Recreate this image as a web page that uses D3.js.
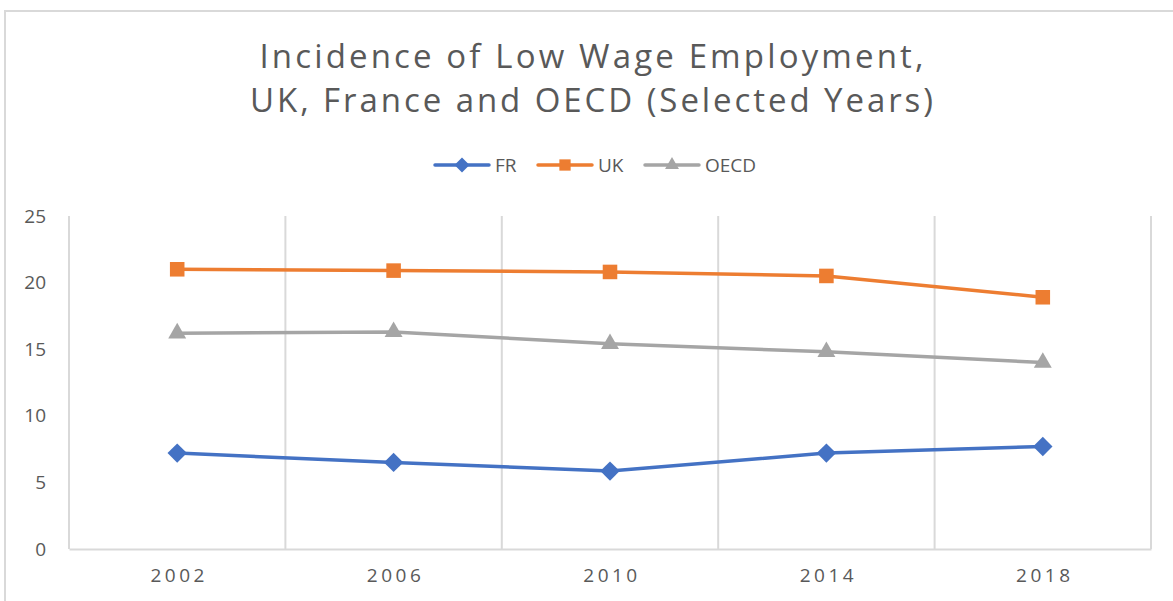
<!DOCTYPE html>
<html>
<head>
<meta charset="utf-8">
<script src="https://cdn.jsdelivr.net/npm/d3@7"></script>
<style>
  body { margin: 0; background: #fff; }
  text { font-family: "Open Sans", "Noto Sans", sans-serif; fill: #595959; }
</style>
</head>
<body>
<div id="chart"></div>
<script>
// Data
const years = ['2002', '2006', '2010', '2014', '2018'];
const frValues = [7.2, 6.5, 5.85, 7.2, 7.7];
const ukValues = [21.0, 20.9, 20.8, 20.5, 18.9];
const oecdValues = [16.2, 16.3, 15.4, 14.8, 14.0];
const yTicks = [0, 5, 10, 15, 20, 25];
const titleLines = ['Incidence of Low Wage Employment,', 'UK, France and OECD (Selected Years)'];

const series = [
  { name: 'FR', values: frValues, color: '#4472C4', symbol: d3.symbolDiamond2, size: 240 },
  { name: 'UK', values: ukValues, color: '#ED7D31', symbol: d3.symbolSquare2, size: 270 },
  { name: 'OECD', values: oecdValues, color: '#A5A5A5', symbol: d3.symbolTriangle2, size: 230 }
];

// Size
var width = 1173;
var height = 601;
var plot = { left: 69, right: 1151, top: 216, bottom: 549 };

var svg = d3.select('#chart').append('svg')
  .attr('width', width)
  .attr('height', height);

// chart border (only top and left visible in the picture)
svg.append('path')
  .attr('d', `M5,${height} L5,11 L${width},11`)
  .attr('fill', 'none')
  .attr('stroke', '#d9d9d9')
  .attr('stroke-width', 2);

// ********** TITLE **********
var titleWidths = [664, 683];
titleLines.forEach(function(line, i) {
  svg.append('text')
    .attr('x', width / 2 + 5)
    .attr('y', 68 + i * 44)
    .attr('text-anchor', 'middle')
    .attr('font-size', 33)
    .attr('textLength', titleWidths[i])
    .attr('lengthAdjust', 'spacing')
    .text(line);
});

// ********** SCALES **********
var x = d3.scaleBand()
  .domain(years)
  .range([plot.left, plot.right]);

var y = d3.scaleLinear()
  .domain([0, 25])
  .range([plot.bottom, plot.top]);

// vertical gridlines at band edges
var edges = years.map(d => x(d)).concat([plot.right]);
svg.selectAll('.vgrid')
  .data(edges)
  .join('line')
  .attr('class', 'vgrid')
  .attr('x1', d => d)
  .attr('x2', d => d)
  .attr('y1', plot.top)
  .attr('y2', plot.bottom)
  .attr('stroke', '#d9d9d9')
  .attr('stroke-width', 2);

// x axis
var xAxis = svg.append('g')
  .attr('transform', `translate(0,${plot.bottom})`)
  .call(d3.axisBottom(x).tickSize(0).tickPadding(20));
xAxis.select('.domain').attr('stroke', '#d9d9d9').attr('stroke-width', 2);
xAxis.selectAll('text')
  .attr('font-size', 19)
  .attr('letter-spacing', '3.5px')
  .attr('font-family', '"Open Sans", sans-serif')
  .attr('fill', '#595959')
  .attr('dx', '2px');

// y axis
var yAxis = svg.append('g')
  .attr('transform', `translate(${plot.left},0)`)
  .call(d3.axisLeft(y).tickValues(yTicks).tickSize(0).tickPadding(23));
yAxis.select('.domain').remove();
yAxis.selectAll('text')
  .attr('font-size', 19)
  .attr('font-family', '"Open Sans", sans-serif')
  .attr('fill', '#595959');

// ********** LINES **********
var line = d3.line()
  .x((d, i) => x(years[i]) + x.bandwidth() / 2)
  .y(d => y(d));

series.forEach(function(s) {
  svg.append('path')
    .datum(s.values)
    .attr('d', line)
    .attr('fill', 'none')
    .attr('stroke', s.color)
    .attr('stroke-width', 3.5)
    .attr('stroke-linejoin', 'round');

  svg.selectAll('.pt-' + s.name)
    .data(s.values)
    .join('path')
    .attr('class', 'pt-' + s.name)
    .attr('transform', (d, i) => `translate(${x(years[i]) + x.bandwidth() / 2},${y(d)})`)
    .attr('d', d3.symbol().type(s.symbol).size(s.size))
    .attr('fill', s.color);
});

// ********** LEGEND **********
var legendX = [435, 538, 645];
series.forEach(function(s, i) {
  var g = svg.append('g').attr('transform', `translate(${legendX[i]},165)`);
  g.append('line')
    .attr('x1', 0).attr('x2', 54)
    .attr('stroke', s.color)
    .attr('stroke-width', 3.5)
    .attr('stroke-linecap', 'round');
  g.append('path')
    .attr('transform', 'translate(27,0)')
    .attr('d', d3.symbol().type(s.symbol).size(s.size * 0.6))
    .attr('fill', s.color);
  g.append('text')
    .attr('x', 60)
    .attr('dy', '0.35em')
    .attr('font-size', 19)
    .text(s.name);
});
</script>
</body>
</html>
